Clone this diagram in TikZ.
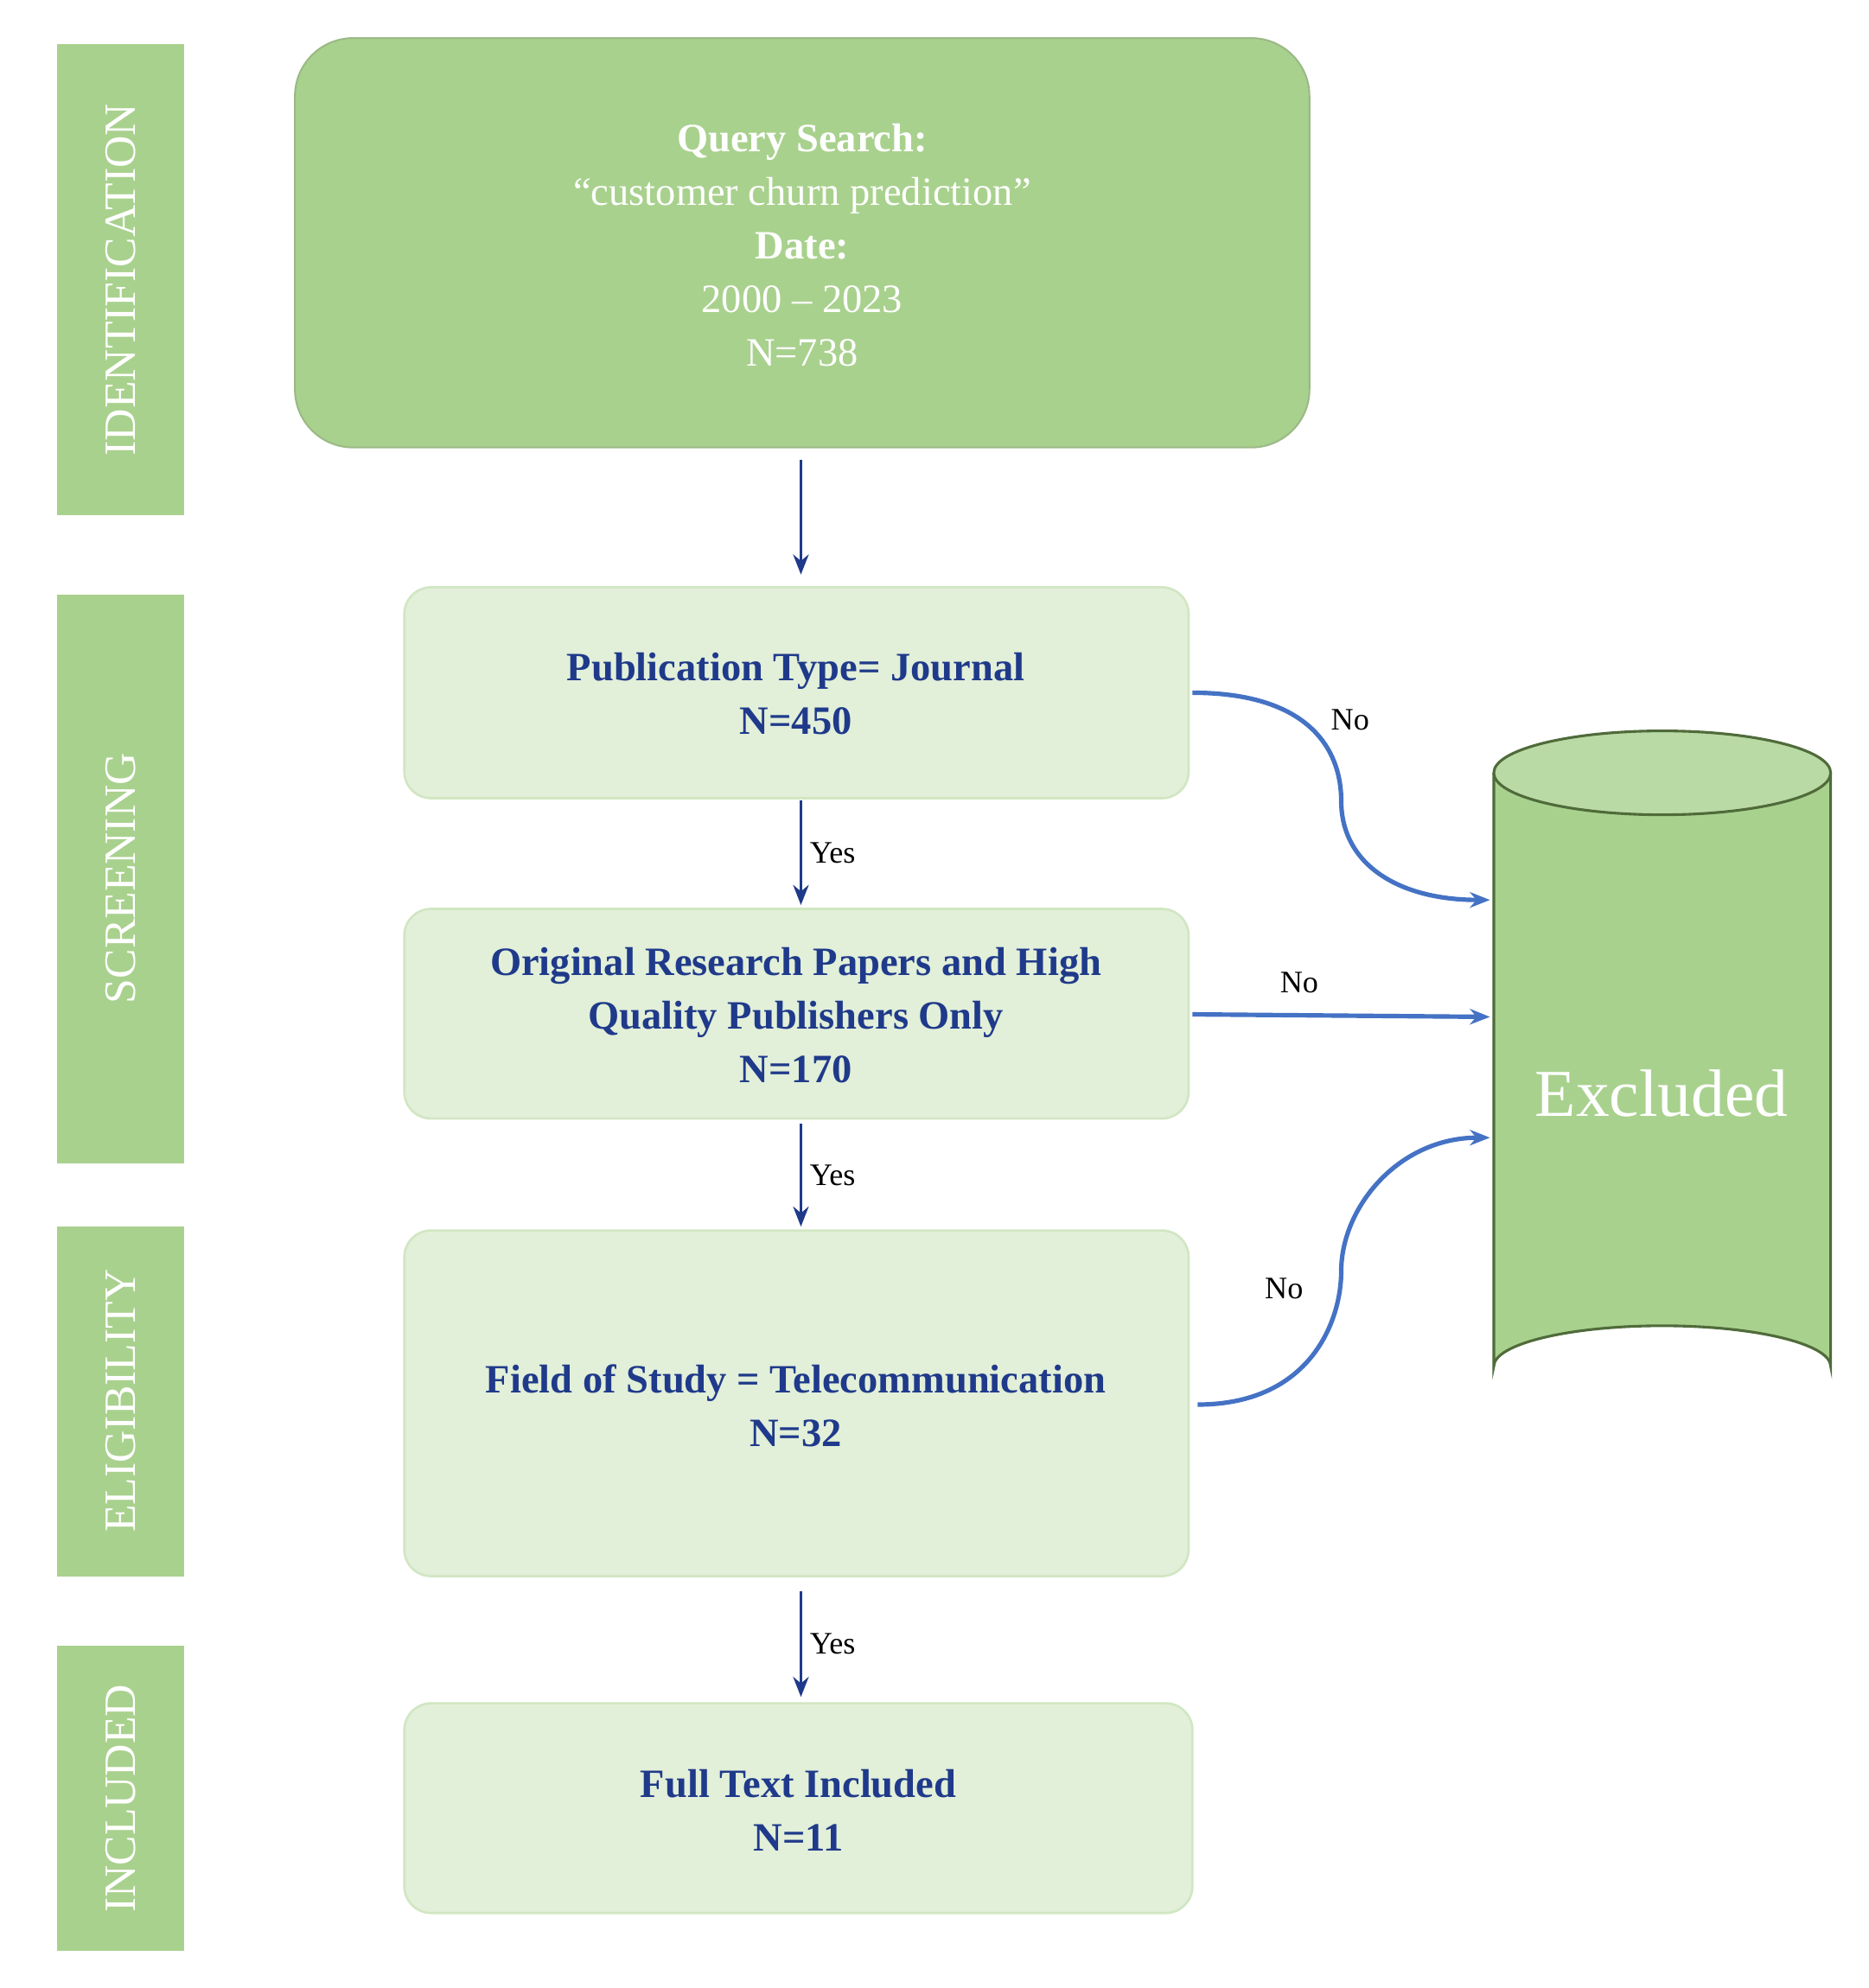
\documentclass[tikz,border=0pt]{standalone}
\usepackage{fontspec}
\setmainfont{Liberation Serif}
\usetikzlibrary{arrows.meta}
\definecolor{gmid}{HTML}{A9D18E}
\definecolor{glight}{HTML}{E2EFD9}
\definecolor{navy}{HTML}{1F3A8A}
\definecolor{bluec}{HTML}{4472C4}
\definecolor{gdark}{HTML}{4F6B3A}
\begin{document}
\begin{tikzpicture}[x=0.02cm,y=-0.02cm,
 side/.style={fill=gmid,draw=none,text=white,font=\fontsize{20}{24}\selectfont},
 lbox/.style={fill=glight,draw=glight!70!gmid,line width=1pt,rounded corners=12pt,text=navy,font=\bfseries\fontsize{18}{24}\selectfont,align=center},
 darr/.style={navy,line width=1.3pt,-{Stealth[length=9pt,width=7pt]}},
 barr/.style={bluec,line width=2pt,-{Stealth[length=9pt,width=7pt]}},
 lab/.style={font=\fontsize{14}{16}\selectfont}]
\useasboundingbox (0,0) rectangle (1470,1564);
% side labels
\fill[gmid] (45,35) rectangle (145,405); \node[side,rotate=90] (s1) at (95,220) {IDENTIFICATION};
\fill[gmid] (45,468) rectangle (145,915); \node[side,rotate=90] (s2) at (95,691) {SCREENING};
\fill[gmid] (45,965) rectangle (145,1240); \node[side,rotate=90] (s3) at (95,1102) {ELIGIBILITY};
\fill[gmid] (45,1295) rectangle (145,1535); \node[side,rotate=90] (s4) at (95,1415) {INCLUDED};
% top box
\draw[fill=gmid,draw=gmid!85!black!90,rounded corners=26pt,line width=0.8pt] (232,30) rectangle (1030,352);
\node[text=white,align=center,font=\fontsize{18}{24}\selectfont] (top) at (631,193)
 {\textbf{Query Search:}\\``customer churn prediction''\\\textbf{Date:}\\2000 -- 2023\\N=738};
\coordinate (topb) at (630,362);
% boxes
\draw[lbox] (318,462) rectangle (935,628); \node[lbox,draw=none,fill=none] (b2) at (626,546) {Publication Type= Journal\\N=450};
\draw[lbox] (318,715) rectangle (935,880); \node[lbox,draw=none,fill=none] (b3) at (626,799) {Original Research Papers and High\\Quality Publishers Only\\N=170};
\draw[lbox] (318,968) rectangle (935,1240); \node[lbox,draw=none,fill=none] (b4) at (626,1106) {Field of Study = Telecommunication\\N=32};
\draw[lbox] (318,1340) rectangle (938,1505); \node[lbox,draw=none,fill=none] (b5) at (628,1424) {Full Text Included\\N=11};
\coordinate (b2t) at (630,452); \coordinate (b2b) at (630,630);
\coordinate (b3t) at (630,712); \coordinate (b3b) at (630,884);
\coordinate (b4t) at (630,965); \coordinate (b4b) at (630,1252);
\coordinate (b5t) at (630,1335);
\draw[darr] (topb) -- (b2t);
\draw[darr] (b2b) -- node[lab,right,text=black]{Yes} (b3t);
\draw[darr] (b3b) -- node[lab,right,text=black]{Yes} (b4t);
\draw[darr] (b4b) -- node[lab,right,text=black]{Yes} (b5t);
% cylinder
\draw[fill=gmid,draw=gdark,line width=1.2pt] (1175,608) -- (1175,1075) arc[start angle=180,end angle=360,x radius=132.5,y radius=32] -- (1440,608);
\draw[fill=gmid!80!white,draw=gdark,line width=1.2pt] (1307.5,608) ellipse[x radius=132.5,y radius=33];
\node[text=white,font=\fontsize{30}{34}\selectfont] (exc) at (1307,860) {Excluded};
\coordinate (e1) at (1172,708); \coordinate (e2) at (1172,800); \coordinate (e3) at (1172,895);
\coordinate (o1) at (938,545); \coordinate (o2) at (938,798); \coordinate (o3) at (942,1105);
\draw[barr] (o1) .. controls (1030,545) and (1055,590) .. (1055,630) .. controls (1055,680) and (1100,708) .. (e1);
\draw[barr] (o2) -- (e2);
\draw[barr] (o3) .. controls (1030,1105) and (1055,1040) .. (1055,1000) .. controls (1055,950) and (1100,895) .. (e3);
\node[lab] (n1) at (1062,566) {No};
\node[lab] (n2) at (1022,773) {No};
\node[lab] (n3) at (1010,1014) {No};
\end{tikzpicture}
\end{document}
